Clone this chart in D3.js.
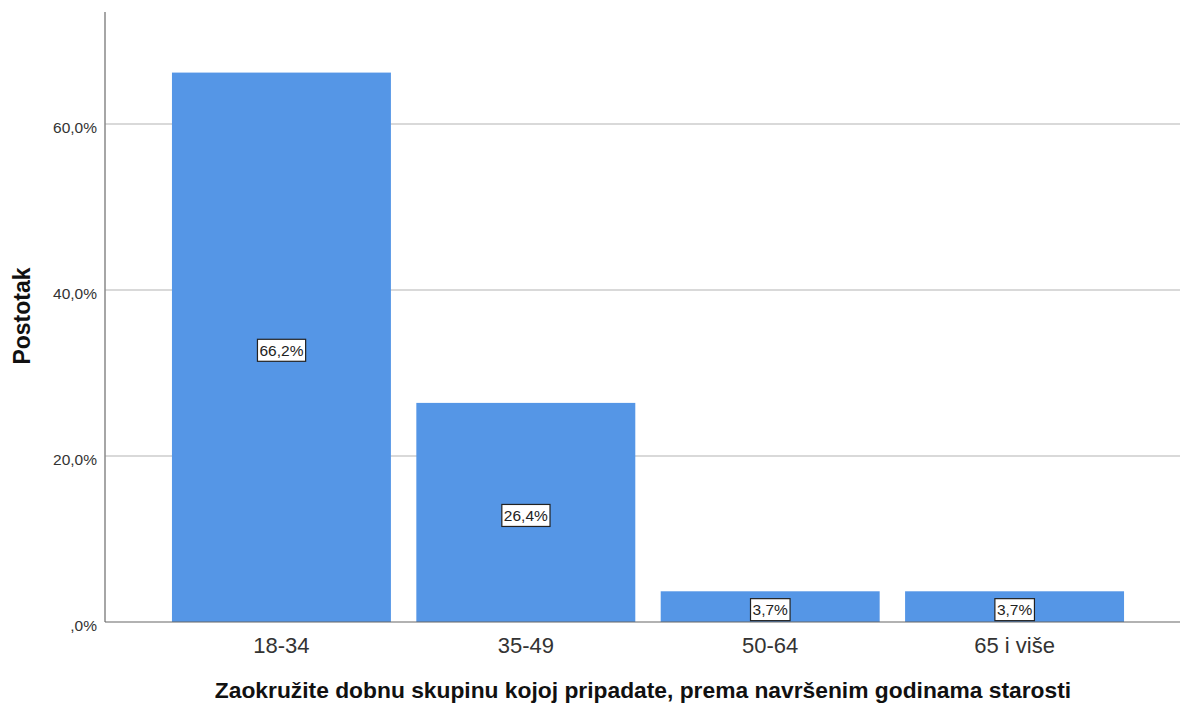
<!DOCTYPE html>
<html>
<head>
<meta charset="utf-8">
<script src="https://cdn.jsdelivr.net/npm/d3@7"></script>
<style>
  body { margin: 0; background: #fff; }
  text { font-family: "Liberation Sans", Arial, sans-serif; }
</style>
</head>
<body>
<script>
var categories = ["18-34", "35-49", "50-64", "65 i više"];
var values = [66.2, 26.4, 3.7, 3.7];
var labels = ["66,2%", "26,4%", "3,7%", "3,7%"];
var yTicks = [0, 20, 40, 60];
var yTickLabels = [",0%", "20,0%", "40,0%", "60,0%"];

var W = 1180, H = 704;
var plot = { left: 105, top: 12, right: 1180, bottom: 622 };

var svg = d3.select("body").append("svg").attr("width", W).attr("height", H);

var y = d3.scaleLinear().domain([0, 73.5]).range([plot.bottom, plot.top]);
var x = d3.scaleBand().domain(categories)
  .range([plot.left, 1191])
  .paddingInner(0.104)
  .paddingOuter(0.274);

// gridlines
svg.append("g").selectAll("line")
  .data(yTicks.filter(d => d > 0))
  .enter().append("line")
  .attr("x1", plot.left).attr("x2", plot.right)
  .attr("y1", d => y(d)).attr("y2", d => y(d))
  .attr("stroke", "#d9d9d9").attr("stroke-width", 2);

// bars
svg.append("g").selectAll("rect")
  .data(values)
  .enter().append("rect")
  .attr("x", (d, i) => x(categories[i]))
  .attr("y", d => y(d))
  .attr("width", x.bandwidth())
  .attr("height", d => plot.bottom - y(d))
  .attr("fill", "#5596e6");

// axes lines
svg.append("line")
  .attr("x1", plot.left).attr("x2", plot.left)
  .attr("y1", plot.top).attr("y2", plot.bottom)
  .attr("stroke", "#888").attr("stroke-width", 1.5);
svg.append("line")
  .attr("x1", plot.left).attr("x2", plot.right)
  .attr("y1", plot.bottom).attr("y2", plot.bottom)
  .attr("stroke", "#666").attr("stroke-width", 1.2);

// y tick labels
svg.append("g").selectAll("text")
  .data(yTicks)
  .enter().append("text")
  .attr("x", 97)
  .attr("y", d => y(d) + 9)
  .attr("text-anchor", "end")
  .attr("font-size", 15.5)
  .attr("fill", "#333")
  .text((d, i) => yTickLabels[i]);

// x tick labels
svg.append("g").selectAll("text")
  .data(categories)
  .enter().append("text")
  .attr("x", d => x(d) + x.bandwidth() / 2)
  .attr("y", 653)
  .attr("text-anchor", "middle")
  .attr("font-size", 22)
  .attr("fill", "#333")
  .text(d => d);

// data labels
var lab = svg.append("g").selectAll("g")
  .data(values)
  .enter().append("g")
  .attr("transform", (d, i) => "translate(" + (x(categories[i]) + x.bandwidth() / 2) + "," + ((y(d) + plot.bottom) / 2 + 3) + ")");
lab.append("text")
  .attr("text-anchor", "middle")
  .attr("y", 5.5)
  .attr("font-size", 15.5)
  .attr("fill", "#222")
  .text((d, i) => labels[i])
  .each(function() {
    var b = this.getBBox();
    d3.select(this.parentNode).insert("rect", "text")
      .attr("x", b.x - 2).attr("y", -11)
      .attr("width", b.width + 4).attr("height", 22)
      .attr("fill", "#fff").attr("stroke", "#222").attr("stroke-width", 1.2);
  });

// axis titles
svg.append("text")
  .attr("x", 643).attr("y", 698)
  .attr("text-anchor", "middle")
  .attr("font-size", 22.8).attr("font-weight", "bold")
  .attr("fill", "#111")
  .text("Zaokružite dobnu skupinu kojoj pripadate, prema navršenim godinama starosti");
svg.append("text")
  .attr("transform", "translate(29.5,316) rotate(-90)")
  .attr("text-anchor", "middle")
  .attr("font-size", 23).attr("font-weight", "bold")
  .attr("fill", "#111")
  .text("Postotak");
</script>
</body>
</html>
